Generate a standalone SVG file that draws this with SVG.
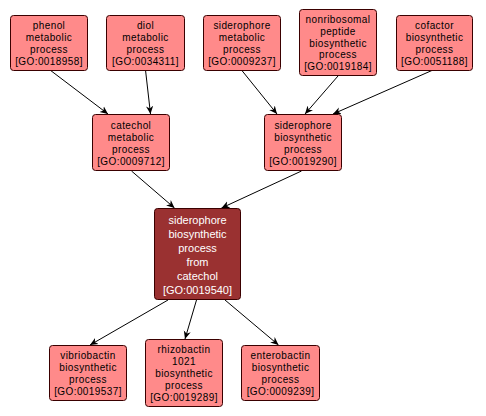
<svg xmlns="http://www.w3.org/2000/svg" width="486" height="416" viewBox="0 0 486 416">
<defs>
<marker id="arr" viewBox="0 0 10 10" refX="10" refY="5" markerWidth="8" markerHeight="8" markerUnits="userSpaceOnUse" orient="auto">
<path d="M0,0.5 L10,5 L0,9.5 L3,5 Z" fill="#000"/>
</marker>
<style>
.n rect{fill:#ff8a8a;stroke:#3a0000;stroke-width:1}
.n text{font-family:"Liberation Sans",Arial,sans-serif;font-size:10px;fill:#000;text-anchor:middle;letter-spacing:0.4px}
.c rect{fill:#9a3131;stroke:#3a0000;stroke-width:1}
.c text{font-family:"Liberation Sans",Arial,sans-serif;font-size:11px;fill:#fff;text-anchor:middle}
#edges line{stroke:#000;stroke-width:1;marker-end:url(#arr)}
</style>
</defs>
<rect width="486" height="416" fill="#fff"/>
<g id="edges">
<line x1="50" y1="70" x2="108" y2="114"/>
<line x1="145.5" y1="70" x2="150.5" y2="114"/>
<line x1="241.5" y1="70" x2="277" y2="114"/>
<line x1="338" y1="76" x2="305" y2="114"/>
<line x1="433" y1="70" x2="333" y2="114"/>
<line x1="131.5" y1="171" x2="174.5" y2="208"/>
<line x1="301.5" y1="171" x2="221.5" y2="208"/>
<line x1="168" y1="300" x2="90" y2="345"/>
<line x1="196.5" y1="300" x2="185" y2="339"/>
<line x1="225" y1="300" x2="278.5" y2="345"/>
</g>
<g id="n1" class="n"><rect x="10.5" y="15.5" width="77" height="55" rx="3"/>
<text x="49" y="29">phenol</text><text x="49" y="41">metabolic</text><text x="49" y="53">process</text><text x="49" y="65">[GO:0018958]</text></g>
<g id="n2" class="n"><rect x="106.5" y="15.5" width="78" height="55" rx="3"/>
<text x="145.5" y="29">diol</text><text x="145.5" y="41">metabolic</text><text x="145.5" y="53">process</text><text x="145.5" y="65">[GO:0034311]</text></g>
<g id="n3" class="n"><rect x="203.5" y="15.5" width="77" height="55" rx="3"/>
<text x="242" y="29">siderophore</text><text x="242" y="41">metabolic</text><text x="242" y="53">process</text><text x="242" y="65">[GO:0009237]</text></g>
<g id="n4" class="n"><rect x="299.5" y="9.5" width="77" height="66" rx="3"/>
<text x="338" y="23">nonribosomal</text><text x="338" y="35">peptide</text><text x="338" y="47">biosynthetic</text><text x="338" y="58">process</text><text x="338" y="70">[GO:0019184]</text></g>
<g id="n5" class="n"><rect x="396.5" y="15.5" width="76" height="55" rx="3"/>
<text x="434.5" y="29">cofactor</text><text x="434.5" y="41">biosynthetic</text><text x="434.5" y="53">process</text><text x="434.5" y="65">[GO:0051188]</text></g>
<g id="n6" class="n"><rect x="92.5" y="114.5" width="77" height="56" rx="3"/>
<text x="131" y="129">catechol</text><text x="131" y="141">metabolic</text><text x="131" y="153">process</text><text x="131" y="165">[GO:0009712]</text></g>
<g id="n7" class="n"><rect x="264.5" y="114.5" width="77" height="56" rx="3"/>
<text x="303" y="129">siderophore</text><text x="303" y="141">biosynthetic</text><text x="303" y="153">process</text><text x="303" y="165">[GO:0019290]</text></g>
<g id="n8" class="c"><rect x="154.5" y="208.5" width="86" height="91" rx="3"/>
<text x="197.5" y="224">siderophore</text><text x="197.5" y="238">biosynthetic</text><text x="197.5" y="252">process</text><text x="197.5" y="266">from</text><text x="197.5" y="280">catechol</text><text x="197.5" y="294">[GO:0019540]</text></g>
<g id="n9" class="n"><rect x="49.5" y="345.5" width="77" height="55" rx="3"/>
<text x="88" y="359">vibriobactin</text><text x="88" y="371">biosynthetic</text><text x="88" y="383">process</text><text x="88" y="395">[GO:0019537]</text></g>
<g id="n10" class="n"><rect x="145.5" y="339.5" width="77" height="67" rx="3"/>
<text x="184" y="353">rhizobactin</text><text x="184" y="365">1021</text><text x="184" y="377">biosynthetic</text><text x="184" y="389">process</text><text x="184" y="401">[GO:0019289]</text></g>
<g id="n11" class="n"><rect x="241.5" y="345.5" width="78" height="55" rx="3"/>
<text x="280.5" y="359">enterobactin</text><text x="280.5" y="371">biosynthetic</text><text x="280.5" y="383">process</text><text x="280.5" y="395">[GO:0009239]</text></g>
</svg>
